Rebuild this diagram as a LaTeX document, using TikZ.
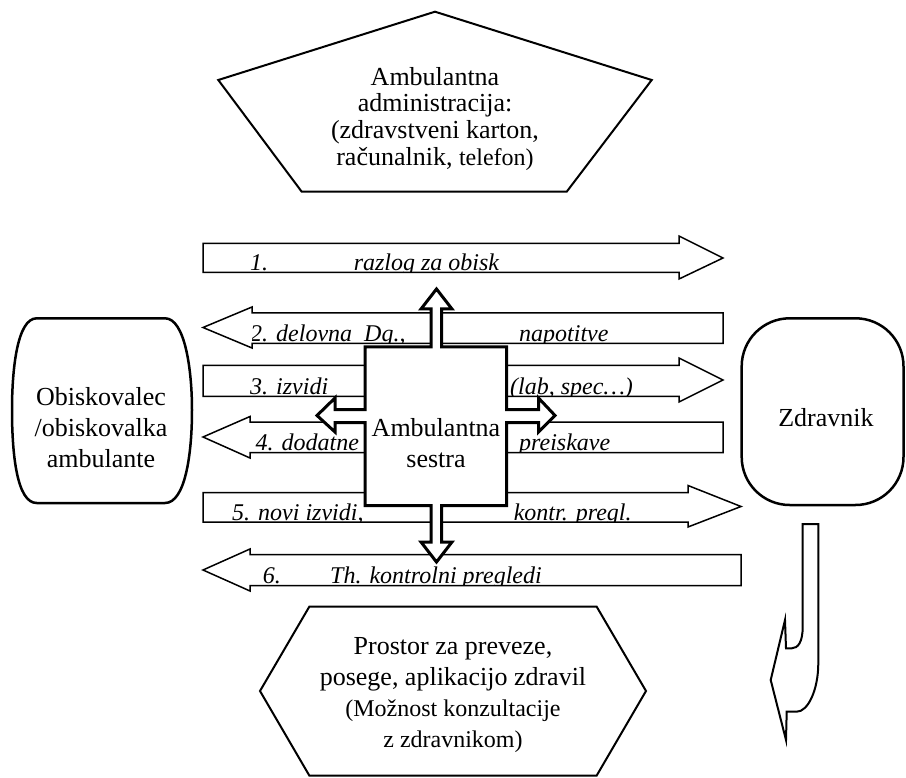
\documentclass[tikz,border=0pt]{standalone}
\usepackage{fontspec}
\setmainfont{Liberation Serif}
\begin{document}
\begin{tikzpicture}[x=1pt,y=-1pt,
  blockarrow/.style={draw=black, fill=white, line width=1.5pt, line join=miter},
  crossshape/.style={draw=black, fill=white, line width=3pt, line join=miter},
  roundshape/.style={draw=black, fill=white, line width=2.5pt},
  polyshape/.style={draw=black, fill=white, line width=2pt, line join=miter},
  curvedarrow/.style={draw=black, fill=white, line width=2pt, line join=miter},
  lbl/.style={anchor=base west, inner sep=0pt, font=\itshape\fontsize{24}{24}\selectfont},
  maintext/.style={align=center, inner sep=0pt, font=\fontsize{26}{31}\selectfont}]
\useasboundingbox[fill=white] (0,0) rectangle (906,778);

% top pentagon
\draw[polyshape] (435,11.7) -- (651.7,80) -- (566.7,191.7) -- (301.7,191.7) -- (218.3,80) -- cycle;
\node[maintext, font=\fontsize{26}{26.7}\selectfont] (admin) at (435,118.7)
  {Ambulantna\\administracija:\\(zdravstveni karton,\\računalnik, {\fontsize{24}{26.7}\selectfont telefon)}};

% left visitor shape
\draw[roundshape] (36.7,318.3) -- (165,318.3)
  .. controls (185,318.3) and (192,370) .. (192,410)
  .. controls (192,455) and (185,503) .. (165,503)
  -- (36.7,503)
  .. controls (17,503) and (12,455) .. (12,410)
  .. controls (12,370) and (17,318.3) .. (36.7,318.3) -- cycle;
\node[maintext] (visitor) at (101,427.5) {Obiskovalec\\/obiskovalka\\ambulante};

% right doctor shape
\draw[roundshape, rounded corners=48pt] (741.7,318.3) rectangle (903.5,505);
\node[maintext] (doctor) at (826,417.8) {Zdravnik};

% arrow 1 (right)
\draw[blockarrow] (203,243.5) -- (679,243.5) -- (679,236) -- (723,258) -- (679,279) -- (679,272.5) -- (203,272.5) -- cycle;
\begin{scope}
\clip (203,243.5) rectangle (679,272.5);
\node[lbl] (l1a) at (250,270.5) {1.};
\node[lbl] (l1b) at (353.6,270.5) {razlog za obisk};
\end{scope}

% arrow 2 (left)
\draw[blockarrow] (203,327.5) -- (252,307) -- (252,313) -- (723,313) -- (723,343.5) -- (252,343.5) -- (252,348) -- cycle;
\begin{scope}
\clip (252,313) rectangle (723,343.5);
\node[lbl] (l2a) at (250,341.5) {2. delovna\ \ Dg.,};
\node[lbl] (l2b) at (519,341.5) {napotitve};
\end{scope}

% arrow 3 (right)
\draw[blockarrow] (203,365.5) -- (679,365.5) -- (679,358) -- (723,380) -- (679,402) -- (679,396.5) -- (203,396.5) -- cycle;
\begin{scope}
\clip (203,365.5) rectangle (679,396.5);
\node[lbl] (l3a) at (250,394.5) {3. izvidi};
\node[lbl] (l3b) at (510,394.5) {(lab, spec…)};
\end{scope}

% arrow 4 (left)
\draw[blockarrow] (203,437) -- (250,416.5) -- (250,422) -- (723,422) -- (723,452.5) -- (250,452.5) -- (250,458) -- cycle;
\begin{scope}
\clip (250,422) rectangle (723,452.5);
\node[lbl] (l4a) at (255.5,450.5) {4. dodatne};
\node[lbl] (l4b) at (519,450.5) {preiskave};
\end{scope}

% arrow 5 (right)
\draw[blockarrow] (203,492.5) -- (688,492.5) -- (688,485.5) -- (741,506.5) -- (688,527) -- (688,522) -- (203,522) -- cycle;
\begin{scope}
\clip (203,492.5) rectangle (688,522);
\node[lbl] (l5a) at (232,520) {5. novi izvidi,};
\node[lbl] (l5b) at (513.6,520) {kontr. pregl.};
\end{scope}

% arrow 6 (left)
\draw[blockarrow] (203,570) -- (250,549) -- (250,554.5) -- (741,554.5) -- (741,585.5) -- (250,585.5) -- (250,591) -- cycle;
\begin{scope}
\clip (250,554.5) rectangle (741,585.5);
\node[lbl] (l6a) at (262.7,583.5) {6.};
\node[lbl] (l6b) at (330,583.5) {Th. kontrolni pregledi};
\end{scope}

% central cross shape
\draw[crossshape] (365,347) -- (431,347) -- (431,309) -- (421,309) -- (436.5,289) -- (452,309) -- (441.5,309) -- (441.5,347)
  -- (506.7,347) -- (506.7,409.5) -- (538.5,409.5) -- (538.5,398) -- (555,415.5) -- (538.5,432) -- (538.5,422.5) -- (506.7,422.5)
  -- (506.7,505.5) -- (441.5,505.5) -- (441.5,542) -- (452,542) -- (436.5,562) -- (421,542) -- (431,542) -- (431,505.5)
  -- (365,505.5) -- (365,422.5) -- (335,422.5) -- (335,432) -- (317,415.5) -- (335,398) -- (335,409.5) -- (365,409.5) -- cycle;
\node[maintext] (nurse) at (436,443.5) {Ambulantna\\sestra};

% bottom hexagon
\draw[polyshape] (309.3,606.7) -- (596.7,606.7) -- (646,691) -- (596.7,775.5) -- (309.3,775.5) -- (260,691) -- cycle;
\node[maintext] (room) at (453,695)
  {Prostor za preveze,\\posege, aplikacijo zdravil\\{\fontsize{24}{31}\selectfont (Možnost konzultacije}\\{\fontsize{24}{31}\selectfont z zdravnikom)}};

% curved arrow below doctor
\draw[curvedarrow] (802.7,524) -- (818.3,524) -- (818.3,663)
  .. controls (818.3,690) and (808,711.7) .. (796.7,711.7)
  -- (786.7,711.7) -- (786,740) -- (770.7,680) -- (785,620) -- (786,648.3) -- (791.7,648.3)
  .. controls (798,648.3) and (802.7,642) .. (802.7,626.7) -- cycle;
\end{tikzpicture}
\end{document}
